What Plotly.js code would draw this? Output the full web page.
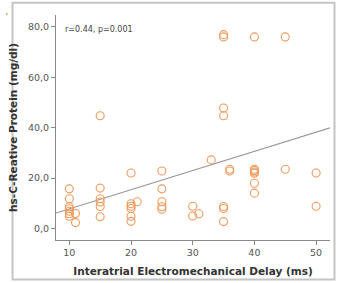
<!DOCTYPE html>
<html>
<head>
<meta charset="utf-8">
<script src="https://cdn.plot.ly/plotly-3.0.1.min.js"></script>
<style>
  html, body { margin: 0; padding: 0; background: #fff; }
  #chart { width: 338px; height: 283px; }
</style>
</head>
<body>
<div id="chart"></div>
<script>
// Interatrial electromechanical delay (ms) against hs-CRP (mg/dl)
const delayMs = [
  10, 10, 10, 10, 10, 10, 10,
  11, 11,
  15, 15, 15, 15, 15, 15,
  20, 20, 20, 20, 20, 20,
  21,
  25, 25, 25, 25, 25,
  30, 30,
  31,
  33,
  35, 35, 35, 35, 35, 35, 35,
  36, 36,
  40, 40, 40, 40, 40, 40, 40,
  45, 45,
  50, 50
];
const crpMgDl = [
  15.7, 11.8, 8.6, 7.8, 6.8, 5.8, 4.8,
  5.9, 2.3,
  44.7, 16.0, 11.8, 10.5, 8.7, 4.6,
  22.0, 9.8, 8.8, 7.9, 4.8, 2.8,
  10.6,
  22.8, 15.7, 10.6, 8.6, 7.6,
  8.8, 4.9,
  5.8,
  27.2,
  76.9, 76.0, 47.8, 44.7, 8.7, 7.9, 2.7,
  23.5, 22.8,
  76.0, 23.5, 23.0, 22.4, 21.9, 17.9, 14.0,
  76.0, 23.5,
  22.0, 8.8
];

// Fitted regression line endpoints
const fitX = [7.84, 52.25];
const fitY = [6.1, 39.9];

// Y tick values and their comma-decimal labels
const yTickVals = [0, 20, 40, 60, 80];
const yTickText = ['0,0', '20,0', '40,0', '60,0', '80,0'];
const xTickVals = [10, 20, 30, 40, 50];

const statsLabel = 'r=0.44, p=0.001';

const font = 'DejaVu Sans, Verdana, sans-serif';

const traces = [
  {
    x: fitX, y: fitY, type: 'scatter', mode: 'lines',
    line: { color: '#9a9a9a', width: 1.2 },
    hoverinfo: 'skip', showlegend: false
  },
  {
    x: delayMs, y: crpMgDl, type: 'scatter', mode: 'markers',
    marker: {
      symbol: 'circle-open', size: 8,
      color: '#f09a5c', line: { color: '#f09a5c', width: 1.1 }
    },
    showlegend: false
  }
];

const layout = {
  width: 338, height: 283,
  margin: { l: 56, r: 8, t: 15, b: 43 },
  paper_bgcolor: '#ffffff', plot_bgcolor: '#ffffff',
  font: { family: font, color: '#555', size: 9 },
  xaxis: {
    range: [7.84, 52.25],
    tickvals: xTickVals,
    ticks: 'outside', ticklen: 4, tickcolor: '#888', tickwidth: 1,
    showline: true, linecolor: '#888', linewidth: 1,
    showgrid: false, zeroline: false,
    tickfont: { family: font, size: 9.5, color: '#555' },
    title: {
      text: 'Interatrial Electromechanical Delay (ms)',
      font: { family: font, size: 10.5, color: '#333', weight: 'bold' },
      standoff: 10
    }
  },
  yaxis: {
    range: [-4.6, 84.7],
    tickvals: yTickVals, ticktext: yTickText,
    ticks: 'outside', ticklen: 4, tickcolor: '#888', tickwidth: 1,
    showline: true, linecolor: '#888', linewidth: 1,
    showgrid: false, zeroline: false,
    tickfont: { family: font, size: 9.5, color: '#555' },
    title: {
      text: 'hs-C-Reative Protein (mg/dl)',
      font: { family: font, size: 10.5, color: '#333', weight: 'bold' },
      standoff: 8
    }
  },
  annotations: [
    {
      text: statsLabel, xref: 'paper', yref: 'paper',
      x: 0.024, y: 0.934, xanchor: 'left', yanchor: 'middle',
      showarrow: false, font: { family: font, size: 8, color: '#444' }
    }
  ],
  shapes: [
    {
      type: 'rect', xref: 'paper', yref: 'paper', layer: 'below',
      x0: -0.1588, x1: 1.0164, y0: -0.175, y1: 1.054,
      line: { color: '#c4c4c4', width: 2 }, fillcolor: 'rgba(0,0,0,0)'
    },
    {
      type: 'circle', xref: 'paper', yref: 'paper',
      x0: -0.183, x1: -0.176, y0: 1.0, y1: 1.009,
      line: { width: 0 }, fillcolor: '#f09a5c'
    }
  ],
  showlegend: false
};

Plotly.newPlot('chart', traces, layout, { staticPlot: true, displayModeBar: false });
</script>
</body>
</html>
